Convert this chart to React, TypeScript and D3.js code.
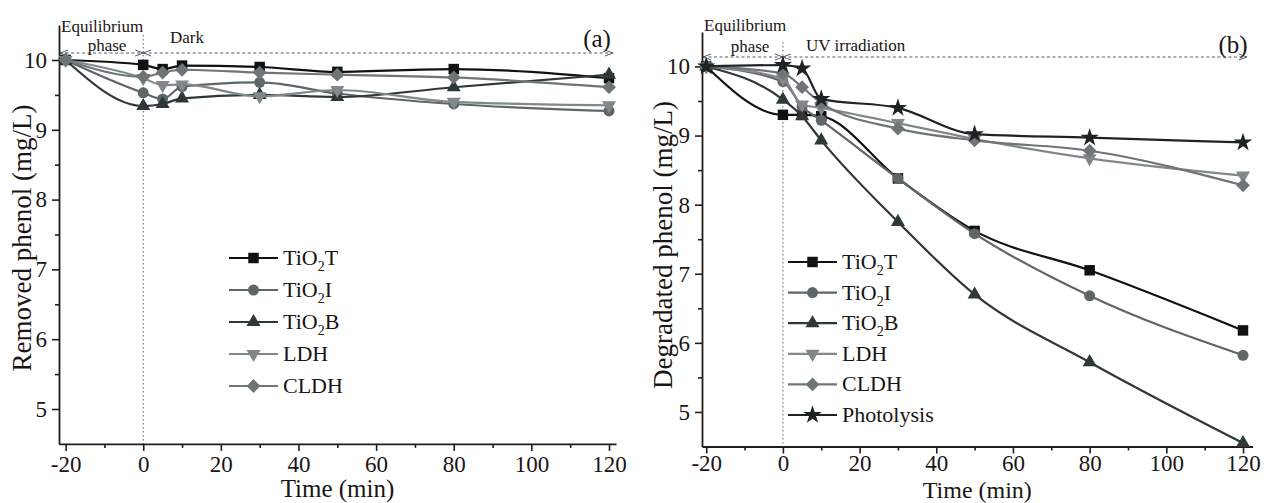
import { useRef, useEffect } from "react";
import * as d3 from "d3";

// sampling times (min)
const times = [-20, 0, 5, 10, 30, 50, 80, 120];

// (a) adsorption in the dark, removed phenol (mg/L)
const remTiO2T = [10, 9.93, 9.87, 9.92, 9.9, 9.83, 9.87, 9.74];
const remTiO2I = [10, 9.53, 9.44, 9.62, 9.68, 9.52, 9.37, 9.27];
const remTiO2B = [10, 9.34, 9.37, 9.45, 9.5, 9.47, 9.61, 9.79];
const remLDH = [10, 9.74, 9.64, 9.65, 9.48, 9.57, 9.4, 9.35];
const remCLDH = [10, 9.76, 9.82, 9.86, 9.82, 9.79, 9.75, 9.61];

// (b) UV irradiation, degradated phenol (mg/L)
const degTiO2T = [10, 9.3, 9.3, 9.28, 8.38, 7.62, 7.05, 6.18];
const degTiO2I = [10, 9.78, 9.42, 9.22, 8.38, 7.58, 6.68, 5.82];
const degTiO2B = [10, 9.52, 9.28, 8.93, 7.75, 6.7, 5.72, 4.55];
const degLDH = [10, 9.82, 9.45, 9.4, 9.18, 8.95, 8.67, 8.42];
const degCLDH = [10, 9.9, 9.7, 9.47, 9.1, 8.93, 8.78, 8.28];
const degPhoto = [10, 10.02, 9.97, 9.53, 9.4, 9.02, 8.97, 8.9];

const xMajor = [-20, 0, 20, 40, 60, 80, 100, 120];
const xMinor = [-10, 10, 30, 50, 70, 90, 110];
const yMajor = [5, 6, 7, 8, 9, 10];
const yMinor = [5.5, 6.5, 7.5, 8.5, 9.5];

const styles = {
  TiO2T: { color: "#111111", shape: "square" },
  TiO2I: { color: "#5e6668", shape: "circle" },
  TiO2B: { color: "#2e3838", shape: "triangle" },
  LDH: { color: "#808889", shape: "down" },
  CLDH: { color: "#6d7577", shape: "diamond" },
  Photolysis: { color: "#1e2424", shape: "star" },
};

const font = "'Liberation Serif', 'Times New Roman', Times, serif";
const axisColor = "#231c1c";

const panels = [
  {
    xDomain: [-21.7, 121.8],
    xRange: [59, 616],
    yRange: [443.9, 25.1],
    series: [
      ["TiO2T", remTiO2T],
      ["TiO2I", remTiO2I],
      ["TiO2B", remTiO2B],
      ["LDH", remLDH],
      ["CLDH", remCLDH],
    ],
    legendX: 229,
    legendY: 258,
    legendStep: 32,
    yTitle: "Removed phenol (mg/L)",
    yTitlePos: [31, 238],
    xTitleY: 497,
    xTitleSize: 25,
    tickPad: 5,
    arrowY: 53,
    arrowEnd: 121,
    dividerTop: 35,
    eqY: 32,
    phaseX: 107,
    phaseY: 51,
    stage: "Dark",
    stageX: 170,
    stageY: 43,
    letter: "(a)",
    letterPos: [597, 47],
  },
  {
    xDomain: [-21.1, 122.5],
    xRange: [702, 1252.6],
    yRange: [446.5, 31.9],
    series: [
      ["TiO2T", degTiO2T],
      ["TiO2I", degTiO2I],
      ["TiO2B", degTiO2B],
      ["LDH", degLDH],
      ["CLDH", degCLDH],
      ["Photolysis", degPhoto],
    ],
    legendX: 788,
    legendY: 262,
    legendStep: 30.6,
    yTitle: "Degradated phenol (mg/L)",
    yTitlePos: [672, 245],
    xTitleY: 497.5,
    xTitleSize: 24,
    tickPad: 1,
    arrowY: 57,
    arrowEnd: 121,
    dividerTop: 42,
    eqY: 31,
    phaseX: 750,
    phaseY: 52,
    stage: "UV irradiation",
    stageX: 806,
    stageY: 51,
    letter: "(b)",
    letterPos: [1233, 53],
  },
];

function markerPath(shape) {
  if (shape === "square") return d3.symbol(d3.symbolSquare, 110)();
  if (shape === "circle") return d3.symbol(d3.symbolCircle, 95)();
  if (shape === "triangle" || shape === "down") return d3.symbol(d3.symbolTriangle, 85)();
  if (shape === "diamond") return d3.symbol(d3.symbolSquare, 95)();
  return d3.symbol(d3.symbolStar, 105)();
}

function markerRotate(shape) {
  if (shape === "down") return 180;
  if (shape === "diamond") return 45;
  return 0;
}

function addLabel(text, name) {
  if (name.startsWith("TiO2")) {
    text.append("tspan").text("TiO");
    text.append("tspan").text("2").attr("font-size", 14).attr("dy", 6);
    text.append("tspan").text(name.slice(4)).attr("dy", -6);
  } else {
    text.text(name);
  }
}

function styleAxis(g, size) {
  g.attr("font-family", font);
  g.select(".domain").attr("stroke", axisColor).attr("stroke-width", 1.8);
  g.selectAll(".tick line").attr("stroke", axisColor).attr("stroke-width", 1.6);
  g.selectAll(".tick text")
    .attr("fill", "#1a1414")
    .attr("font-size", size)
    .attr("font-family", font);
}

function drawPanel(svg, p) {
  const x = d3.scaleLinear().domain(p.xDomain).range(p.xRange);
  const y = d3.scaleLinear().domain([4.5, 10.5]).range(p.yRange);
  const g = svg.append("g");
  const bottom = p.yRange[0];

  // divider between equilibrium phase and second stage
  g.append("line")
    .attr("x1", x(0))
    .attr("x2", x(0))
    .attr("y1", p.dividerTop)
    .attr("y2", bottom)
    .attr("stroke", "#56606a")
    .attr("stroke-width", 1)
    .attr("stroke-dasharray", "1.5,2.5");

  const arrow = (xa, xb) => {
    const ay = p.arrowY;
    g.append("line")
      .attr("x1", xa)
      .attr("x2", xb)
      .attr("y1", ay)
      .attr("y2", ay)
      .attr("stroke", "#4d5e6c")
      .attr("stroke-width", 1.2)
      .attr("stroke-dasharray", "3,2.5");
    g.append("path")
      .attr("d", `M${xa + 8},${ay - 3}L${xa},${ay}L${xa + 8},${ay + 3}`)
      .attr("fill", "none")
      .attr("stroke", "#4d5e6c")
      .attr("stroke-width", 1);
    g.append("path")
      .attr("d", `M${xb - 8},${ay - 3}L${xb},${ay}L${xb - 8},${ay + 3}`)
      .attr("fill", "none")
      .attr("stroke", "#4d5e6c")
      .attr("stroke-width", 1);
  };
  arrow(p.xRange[0] + 1, x(0));
  arrow(x(0), x(p.arrowEnd));

  const note = (t, xx, yy, anchor) =>
    g
      .append("text")
      .attr("x", xx)
      .attr("y", yy)
      .attr("text-anchor", anchor)
      .attr("font-family", font)
      .attr("font-size", 17)
      .attr("fill", "#1a1414")
      .text(t);
  note("Equilibrium", p.xRange[0] + 2, p.eqY, "start");
  note("phase", p.phaseX, p.phaseY, "middle");
  note(p.stage, p.stageX, p.stageY, "start");

  g.append("text")
    .attr("x", p.letterPos[0])
    .attr("y", p.letterPos[1])
    .attr("text-anchor", "middle")
    .attr("font-family", font)
    .attr("font-size", 25)
    .attr("fill", "#1a1414")
    .text(p.letter);

  // axes
  const xa = g.append("g").attr("transform", `translate(0,${bottom})`);
  xa.call(
    d3.axisBottom(x).tickValues(xMinor).tickFormat(() => "").tickSize(4).tickSizeOuter(0)
  );
  xa.select(".domain").remove();
  styleAxis(xa, 23);
  const xb = g.append("g").attr("transform", `translate(0,${bottom})`);
  xb.call(
    d3
      .axisBottom(x)
      .tickValues(xMajor)
      .tickFormat((d) => String(d))
      .tickSize(7)
      .tickSizeOuter(0)
      .tickPadding(p.tickPad)
  );
  styleAxis(xb, 23);

  const ya = g.append("g").attr("transform", `translate(${p.xRange[0]},0)`);
  ya.call(d3.axisLeft(y).tickValues(yMinor).tickFormat(() => "").tickSize(4).tickSizeOuter(0));
  ya.select(".domain").remove();
  styleAxis(ya, 23);
  const yb = g.append("g").attr("transform", `translate(${p.xRange[0]},0)`);
  yb.call(
    d3
      .axisLeft(y)
      .tickValues(yMajor)
      .tickFormat((d) => String(d))
      .tickSize(7)
      .tickSizeOuter(0)
      .tickPadding(5)
  );
  styleAxis(yb, 23);

  g.append("text")
    .attr("x", (p.xRange[0] + p.xRange[1]) / 2)
    .attr("y", p.xTitleY)
    .attr("text-anchor", "middle")
    .attr("font-family", font)
    .attr("font-size", p.xTitleSize)
    .attr("fill", "#1a1414")
    .text("Time (min)");
  g.append("text")
    .attr("transform", `translate(${p.yTitlePos[0]},${p.yTitlePos[1]}) rotate(-90)`)
    .attr("text-anchor", "middle")
    .attr("font-family", font)
    .attr("font-size", 27)
    .attr("fill", "#1a1414")
    .text(p.yTitle);

  // series
  const line = d3
    .line()
    .x((d) => x(d[0]))
    .y((d) => y(d[1]))
    .curve(d3.curveMonotoneX);

  p.series.forEach(([name, values]) => {
    const st = styles[name];
    const pts = times.map((t, i) => [t, values[i]]);
    g.append("path")
      .attr("d", line(pts))
      .attr("fill", "none")
      .attr("stroke", st.color)
      .attr("stroke-width", 2.2);
    g.selectAll(null)
      .data(pts)
      .enter()
      .append("path")
      .attr("d", markerPath(st.shape))
      .attr(
        "transform",
        (d) => `translate(${x(d[0])},${y(d[1])}) rotate(${markerRotate(st.shape)})`
      )
      .attr("fill", st.color);
  });

  // legend
  p.series.forEach(([name], i) => {
    const st = styles[name];
    const ly = p.legendY + i * p.legendStep;
    g.append("line")
      .attr("x1", p.legendX)
      .attr("x2", p.legendX + 49)
      .attr("y1", ly)
      .attr("y2", ly)
      .attr("stroke", st.color)
      .attr("stroke-width", 2.2);
    g.append("path")
      .attr("d", markerPath(st.shape))
      .attr("transform", `translate(${p.legendX + 24.5},${ly}) rotate(${markerRotate(st.shape)})`)
      .attr("fill", st.color);
    const t = g
      .append("text")
      .attr("x", p.legendX + 54)
      .attr("y", ly + 7)
      .attr("font-family", font)
      .attr("font-size", 22)
      .attr("fill", "#1a1414");
    addLabel(t, name);
  });
}

const App = () => {
  const svgRef = useRef(null);

  useEffect(() => {
    const svg = d3.select(svgRef.current);
    svg.selectAll("*").remove();
    panels.forEach((p) => drawPanel(svg, p));
  }, []);

  return (
    <svg
      ref={svgRef}
      width={1269}
      height={503}
      style={{ position: "absolute", left: 0, top: 0, background: "#fff" }}
    ></svg>
  );
};

export default App;
